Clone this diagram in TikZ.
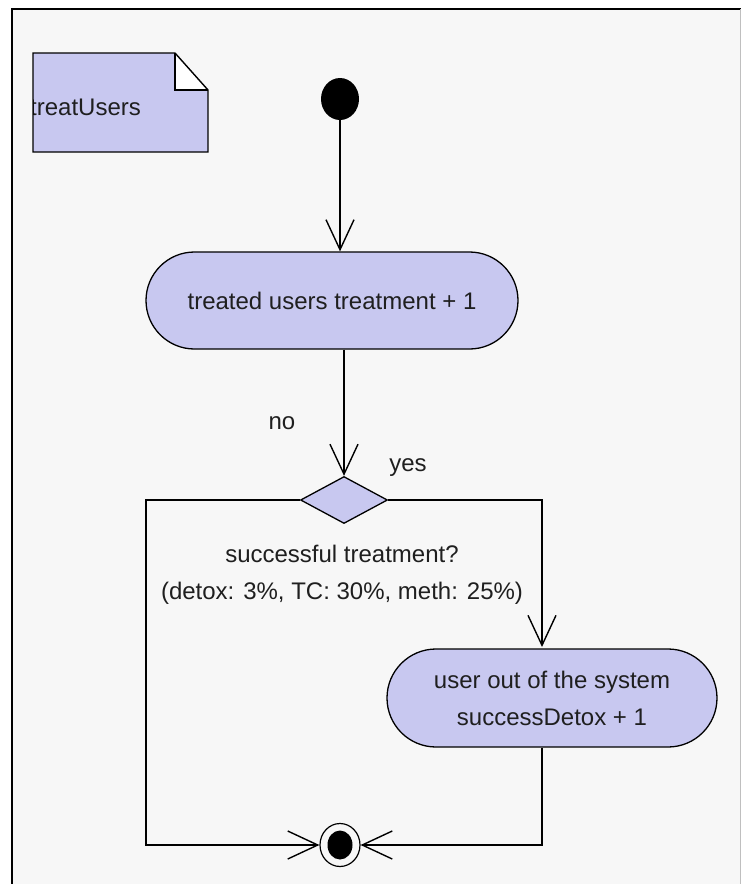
\documentclass[tikz,border=0pt]{standalone}
\usepackage{fontspec}
\setmainfont{Liberation Sans}
\usetikzlibrary{shapes.geometric,shapes.misc,arrows.meta}
\definecolor{lav}{RGB}{200,200,240}
\definecolor{paper}{RGB}{247,247,247}
\tikzset{
  txt/.style={font=\fontsize{24}{37}\selectfont, text=black!88, inner sep=0pt},
  action/.style={rounded rectangle, draw=black, line width=1.3pt, fill=lav,
    inner sep=0pt, align=center, font=\fontsize{24}{37}\selectfont, text=black!88},
  flow/.style={draw=black, line width=1.4pt},
  vtip/.style={-{Straight Barb[length=30pt,width=28pt,line width=1.4pt]}},
}
\begin{document}
\begin{tikzpicture}[x=1pt,y=-1pt]
  \useasboundingbox (0,0) rectangle (741,884);
  % canvas with its frame
  \fill[white] (0,0) rectangle (741,884);
  \fill[paper] (12,9) rectangle (741,884);
  \draw[line width=2pt] (12,884) -- (12,9) -- (741,9);
  \draw[line width=0.6pt, black!25] (740,9) -- (740,884);

  % note with folded corner
  \begin{scope}
    \path[clip] (33,53) -- (175,53) -- (208,90) -- (208,152) -- (33,152) -- cycle;
    \fill[lav] (33,53) -- (175,53) -- (208,90) -- (208,152) -- (33,152) -- cycle;
    \node[txt, anchor=west] (note) at (30,107) {treatUsers};
  \end{scope}
  \fill[white] (175,53) -- (208,90) -- (175,90) -- cycle;
  \draw[line width=1.4pt] (33,53) -- (175,53) -- (208,90) -- (208,152) -- (33,152) -- cycle;
  \draw[line width=1.4pt] (175,53) -- (175,90) -- (208,90);

  % initial node
  \node[ellipse, fill=black, minimum width=38pt, minimum height=42pt, inner sep=0pt] (start) at (340,99) {};

  % actions and decision
  \node[action, minimum width=372pt, minimum height=97pt] (act1) at (332,300.5) {treated users treatment + 1};
  \node[diamond, draw=black, line width=1.3pt, fill=lav, minimum width=87pt, minimum height=47pt, inner sep=0pt] (dec) at (344,500) {};
  \node[action, minimum width=330pt, minimum height=98pt] (act2) at (552,698) {user out of the system\\successDetox + 1};

  % final node
  \node[ellipse, draw=black, line width=1.2pt, fill=paper, minimum width=40pt, minimum height=43pt, inner sep=0pt] (end) at (340,845) {};
  \node[ellipse, fill=black, minimum width=25pt, minimum height=29pt, inner sep=0pt] (endcore) at (340,845) {};

  % labels
  \node[txt] (no) at (282,423) {no};
  \node[txt] (yes) at (408,468) {yes};
  \node[txt, align=center] (cond) at (342,575) {successful treatment?\\(detox: 3\%, TC: 30\%, meth: 25\%)};

  % routing points
  \coordinate (lc) at (146,845);
  \coordinate (rc) at (542,647);

  % control flow
  \draw[flow, vtip] (start.south) -- (start.south |- act1.north);
  \draw[flow, vtip] (dec.north |- act1.south) -- (dec.north);
  \draw[flow, vtip] (dec.west) -| (lc) -- (end.west);
  \draw[flow, vtip] (dec.east) -| (rc);
  \draw[flow, vtip] (act2.south -| rc) |- (end.east);
\end{tikzpicture}
\end{document}
